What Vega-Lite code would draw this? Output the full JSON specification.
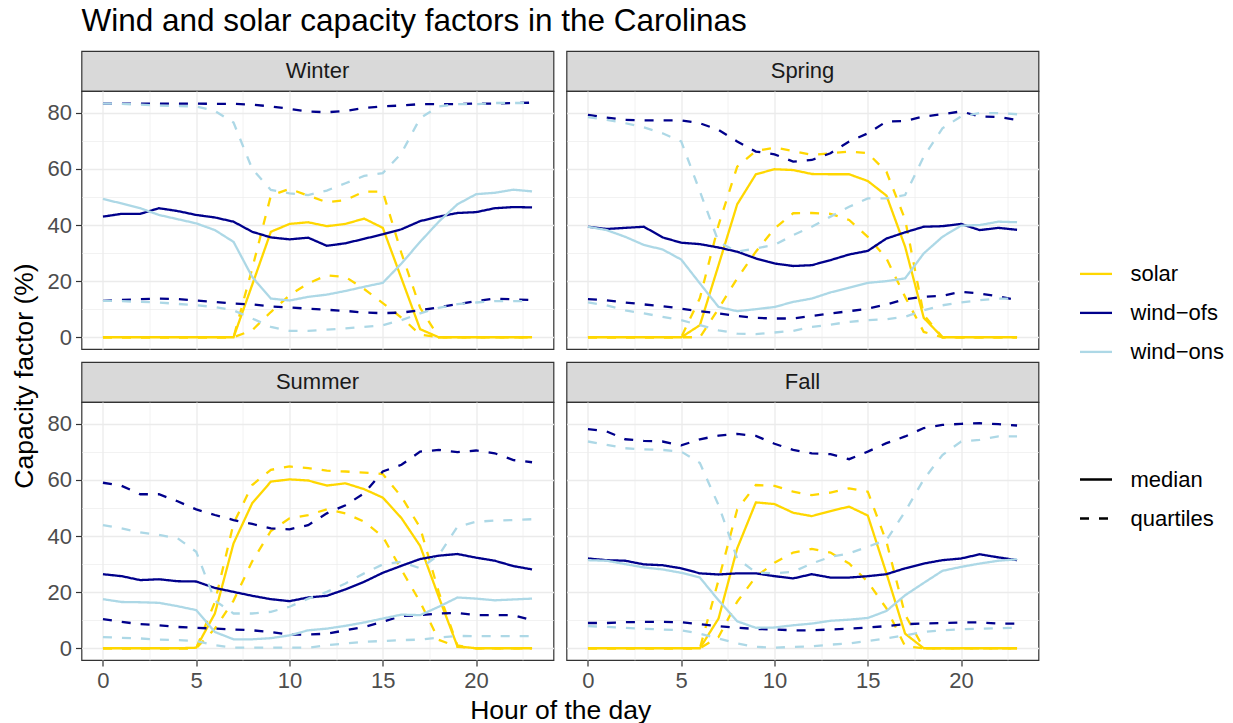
{
"$schema": "https://vega.github.io/schema/vega-lite/v6.json",
"background": "white",
"padding": {"left": 9.5, "top": 5, "right": 2, "bottom": 0},
"title": {"text": "Wind and solar capacity factors in the Carolinas", "anchor": "start", "frame": "group", "fontSize": 31.5, "fontWeight": "normal", "color": "#000000", "offset": -12, "baseline": "alphabetic"},
"datasets": {"d": [
{"s":"Winter","c":"solar","h":0,"median":0,"q25":0,"q75":0},
{"s":"Winter","c":"solar","h":1,"median":0,"q25":0,"q75":0},
{"s":"Winter","c":"solar","h":2,"median":0,"q25":0,"q75":0},
{"s":"Winter","c":"solar","h":3,"median":0,"q25":0,"q75":0},
{"s":"Winter","c":"solar","h":4,"median":0,"q25":0,"q75":0},
{"s":"Winter","c":"solar","h":5,"median":0,"q25":0,"q75":0},
{"s":"Winter","c":"solar","h":6,"median":0,"q25":0,"q75":0},
{"s":"Winter","c":"solar","h":7,"median":0,"q25":0,"q75":0},
{"s":"Winter","c":"solar","h":8,"median":18.7,"q25":2.5,"q75":24.5},
{"s":"Winter","c":"solar","h":9,"median":37.6,"q25":9,"q75":50.5},
{"s":"Winter","c":"solar","h":10,"median":40.4,"q25":15,"q75":52.9},
{"s":"Winter","c":"solar","h":11,"median":41,"q25":19.2,"q75":50.5},
{"s":"Winter","c":"solar","h":12,"median":39.6,"q25":22.1,"q75":48.1},
{"s":"Winter","c":"solar","h":13,"median":40.4,"q25":21.5,"q75":48.9},
{"s":"Winter","c":"solar","h":14,"median":42.3,"q25":17.2,"q75":51.9},
{"s":"Winter","c":"solar","h":15,"median":39,"q25":12.2,"q75":51.9},
{"s":"Winter","c":"solar","h":16,"median":21,"q25":7,"q75":30},
{"s":"Winter","c":"solar","h":17,"median":2.9,"q25":1,"q75":10.5},
{"s":"Winter","c":"solar","h":18,"median":0,"q25":0,"q75":0},
{"s":"Winter","c":"solar","h":19,"median":0,"q25":0,"q75":0},
{"s":"Winter","c":"solar","h":20,"median":0,"q25":0,"q75":0},
{"s":"Winter","c":"solar","h":21,"median":0,"q25":0,"q75":0},
{"s":"Winter","c":"solar","h":22,"median":0,"q25":0,"q75":0},
{"s":"Winter","c":"solar","h":23,"median":0,"q25":0,"q75":0},
{"s":"Winter","c":"wind-ofs","h":0,"median":43,"q25":13,"q75":83.3},
{"s":"Winter","c":"wind-ofs","h":1,"median":44,"q25":13.3,"q75":83.3},
{"s":"Winter","c":"wind-ofs","h":2,"median":44,"q25":13.6,"q75":83.3},
{"s":"Winter","c":"wind-ofs","h":3,"median":46,"q25":13.8,"q75":83.3},
{"s":"Winter","c":"wind-ofs","h":4,"median":45,"q25":13.6,"q75":83.3},
{"s":"Winter","c":"wind-ofs","h":5,"median":43.6,"q25":13.1,"q75":83.3},
{"s":"Winter","c":"wind-ofs","h":6,"median":42.7,"q25":12.6,"q75":83.2},
{"s":"Winter","c":"wind-ofs","h":7,"median":41.2,"q25":12,"q75":83.2},
{"s":"Winter","c":"wind-ofs","h":8,"median":37.6,"q25":11.7,"q75":82.9},
{"s":"Winter","c":"wind-ofs","h":9,"median":35.6,"q25":11,"q75":82.3},
{"s":"Winter","c":"wind-ofs","h":10,"median":34.9,"q25":10.6,"q75":81.4},
{"s":"Winter","c":"wind-ofs","h":11,"median":35.5,"q25":10.2,"q75":80.5},
{"s":"Winter","c":"wind-ofs","h":12,"median":32.6,"q25":9.8,"q75":80.2},
{"s":"Winter","c":"wind-ofs","h":13,"median":33.5,"q25":9.4,"q75":80.7},
{"s":"Winter","c":"wind-ofs","h":14,"median":35.1,"q25":8.8,"q75":81.7},
{"s":"Winter","c":"wind-ofs","h":15,"median":36.7,"q25":8.6,"q75":82.3},
{"s":"Winter","c":"wind-ofs","h":16,"median":38.5,"q25":8.8,"q75":82.6},
{"s":"Winter","c":"wind-ofs","h":17,"median":41.4,"q25":9.6,"q75":83.1},
{"s":"Winter","c":"wind-ofs","h":18,"median":43,"q25":10.7,"q75":83.1},
{"s":"Winter","c":"wind-ofs","h":19,"median":44.3,"q25":11.8,"q75":83.1},
{"s":"Winter","c":"wind-ofs","h":20,"median":44.6,"q25":12.9,"q75":83.3},
{"s":"Winter","c":"wind-ofs","h":21,"median":46,"q25":13.8,"q75":83.3},
{"s":"Winter","c":"wind-ofs","h":22,"median":46.4,"q25":13.5,"q75":83.5},
{"s":"Winter","c":"wind-ofs","h":23,"median":46.3,"q25":13.3,"q75":83.6},
{"s":"Winter","c":"wind-ons","h":0,"median":49.3,"q25":13,"q75":83.3},
{"s":"Winter","c":"wind-ons","h":1,"median":47.7,"q25":12.9,"q75":83.2},
{"s":"Winter","c":"wind-ons","h":2,"median":46,"q25":12.6,"q75":82.9},
{"s":"Winter","c":"wind-ons","h":3,"median":43.6,"q25":12.4,"q75":82.6},
{"s":"Winter","c":"wind-ons","h":4,"median":42.1,"q25":11.9,"q75":82.4},
{"s":"Winter","c":"wind-ons","h":5,"median":40.6,"q25":11.4,"q75":82.3},
{"s":"Winter","c":"wind-ons","h":6,"median":38.2,"q25":10.8,"q75":80.7},
{"s":"Winter","c":"wind-ons","h":7,"median":34,"q25":9.6,"q75":76.5},
{"s":"Winter","c":"wind-ons","h":8,"median":21.5,"q25":6.7,"q75":60},
{"s":"Winter","c":"wind-ons","h":9,"median":13.8,"q25":3.7,"q75":52.5},
{"s":"Winter","c":"wind-ons","h":10,"median":13.1,"q25":2.3,"q75":51.3},
{"s":"Winter","c":"wind-ons","h":11,"median":14.4,"q25":2.3,"q75":50.7},
{"s":"Winter","c":"wind-ons","h":12,"median":15.2,"q25":2.7,"q75":52.3},
{"s":"Winter","c":"wind-ons","h":13,"median":16.5,"q25":3.2,"q75":54.9},
{"s":"Winter","c":"wind-ons","h":14,"median":18,"q25":3.7,"q75":57.5},
{"s":"Winter","c":"wind-ons","h":15,"median":19.4,"q25":4.3,"q75":58.5},
{"s":"Winter","c":"wind-ons","h":16,"median":26.3,"q25":6.1,"q75":65.6},
{"s":"Winter","c":"wind-ons","h":17,"median":34,"q25":8.5,"q75":78.1},
{"s":"Winter","c":"wind-ons","h":18,"median":41.2,"q25":10.5,"q75":82.3},
{"s":"Winter","c":"wind-ons","h":19,"median":47.4,"q25":11.8,"q75":83.1},
{"s":"Winter","c":"wind-ons","h":20,"median":51,"q25":12.4,"q75":83.1},
{"s":"Winter","c":"wind-ons","h":21,"median":51.5,"q25":12.9,"q75":83.5},
{"s":"Winter","c":"wind-ons","h":22,"median":52.6,"q25":12.9,"q75":83.5},
{"s":"Winter","c":"wind-ons","h":23,"median":52,"q25":12.9,"q75":83.5},
{"s":"Spring","c":"solar","h":0,"median":0,"q25":0,"q75":0},
{"s":"Spring","c":"solar","h":1,"median":0,"q25":0,"q75":0},
{"s":"Spring","c":"solar","h":2,"median":0,"q25":0,"q75":0},
{"s":"Spring","c":"solar","h":3,"median":0,"q25":0,"q75":0},
{"s":"Spring","c":"solar","h":4,"median":0,"q25":0,"q75":0},
{"s":"Spring","c":"solar","h":5,"median":0,"q25":0,"q75":0},
{"s":"Spring","c":"solar","h":6,"median":4.3,"q25":0,"q75":14},
{"s":"Spring","c":"solar","h":7,"median":25.7,"q25":10.2,"q75":40},
{"s":"Spring","c":"solar","h":8,"median":47.4,"q25":21,"q75":60.8},
{"s":"Spring","c":"solar","h":9,"median":58.1,"q25":30.5,"q75":66.4},
{"s":"Spring","c":"solar","h":10,"median":59.9,"q25":38.8,"q75":67.6},
{"s":"Spring","c":"solar","h":11,"median":59.6,"q25":44.2,"q75":66.4},
{"s":"Spring","c":"solar","h":12,"median":58.2,"q25":44.3,"q75":65},
{"s":"Spring","c":"solar","h":13,"median":58.1,"q25":44,"q75":65.6},
{"s":"Spring","c":"solar","h":14,"median":58.1,"q25":41.8,"q75":66.2},
{"s":"Spring","c":"solar","h":15,"median":55.7,"q25":35.8,"q75":65.6},
{"s":"Spring","c":"solar","h":16,"median":50.5,"q25":28.1,"q75":59},
{"s":"Spring","c":"solar","h":17,"median":32.3,"q25":14.4,"q75":42},
{"s":"Spring","c":"solar","h":18,"median":6.9,"q25":1.9,"q75":8},
{"s":"Spring","c":"solar","h":19,"median":0,"q25":0,"q75":0},
{"s":"Spring","c":"solar","h":20,"median":0,"q25":0,"q75":0},
{"s":"Spring","c":"solar","h":21,"median":0,"q25":0,"q75":0},
{"s":"Spring","c":"solar","h":22,"median":0,"q25":0,"q75":0},
{"s":"Spring","c":"solar","h":23,"median":0,"q25":0,"q75":0},
{"s":"Spring","c":"wind-ofs","h":0,"median":39.4,"q25":13.6,"q75":79.3},
{"s":"Spring","c":"wind-ofs","h":1,"median":38.6,"q25":13.2,"q75":78.3},
{"s":"Spring","c":"wind-ofs","h":2,"median":39,"q25":12.4,"q75":77.5},
{"s":"Spring","c":"wind-ofs","h":3,"median":39.4,"q25":11.7,"q75":77.3},
{"s":"Spring","c":"wind-ofs","h":4,"median":35.6,"q25":11.1,"q75":77.3},
{"s":"Spring","c":"wind-ofs","h":5,"median":33.7,"q25":10.2,"q75":77.3},
{"s":"Spring","c":"wind-ofs","h":6,"median":33.2,"q25":9.3,"q75":76.3},
{"s":"Spring","c":"wind-ofs","h":7,"median":32,"q25":8.5,"q75":73.9},
{"s":"Spring","c":"wind-ofs","h":8,"median":30.5,"q25":7.6,"q75":69.8},
{"s":"Spring","c":"wind-ofs","h":9,"median":28.1,"q25":6.9,"q75":66.2},
{"s":"Spring","c":"wind-ofs","h":10,"median":26.3,"q25":6.7,"q75":65.2},
{"s":"Spring","c":"wind-ofs","h":11,"median":25.4,"q25":6.7,"q75":62.6},
{"s":"Spring","c":"wind-ofs","h":12,"median":25.7,"q25":7.6,"q75":63.2},
{"s":"Spring","c":"wind-ofs","h":13,"median":27.5,"q25":8.5,"q75":65.6},
{"s":"Spring","c":"wind-ofs","h":14,"median":29.5,"q25":9.3,"q75":69.8},
{"s":"Spring","c":"wind-ofs","h":15,"median":30.8,"q25":10.2,"q75":72.7},
{"s":"Spring","c":"wind-ofs","h":16,"median":35.2,"q25":11.7,"q75":76.9},
{"s":"Spring","c":"wind-ofs","h":17,"median":37.4,"q25":13.6,"q75":77.1},
{"s":"Spring","c":"wind-ofs","h":18,"median":39.4,"q25":14.4,"q75":78.7},
{"s":"Spring","c":"wind-ofs","h":19,"median":39.6,"q25":14.8,"q75":79.5},
{"s":"Spring","c":"wind-ofs","h":20,"median":40.4,"q25":16.2,"q75":80.5},
{"s":"Spring","c":"wind-ofs","h":21,"median":38.2,"q25":15.6,"q75":78.7},
{"s":"Spring","c":"wind-ofs","h":22,"median":39,"q25":14.6,"q75":78.5},
{"s":"Spring","c":"wind-ofs","h":23,"median":38.3,"q25":13.2,"q75":77.5},
{"s":"Spring","c":"wind-ons","h":0,"median":39.4,"q25":12.4,"q75":78.5},
{"s":"Spring","c":"wind-ons","h":1,"median":38.2,"q25":11.4,"q75":77.5},
{"s":"Spring","c":"wind-ons","h":2,"median":35.8,"q25":9.6,"q75":76.3},
{"s":"Spring","c":"wind-ons","h":3,"median":32.9,"q25":8.5,"q75":74.8},
{"s":"Spring","c":"wind-ons","h":4,"median":31.3,"q25":7.3,"q75":72.7},
{"s":"Spring","c":"wind-ons","h":5,"median":27.7,"q25":6.1,"q75":69.8},
{"s":"Spring","c":"wind-ons","h":6,"median":19.2,"q25":4.3,"q75":52},
{"s":"Spring","c":"wind-ons","h":7,"median":10.8,"q25":2.5,"q75":34},
{"s":"Spring","c":"wind-ons","h":8,"median":9.3,"q25":1.3,"q75":30.5},
{"s":"Spring","c":"wind-ons","h":9,"median":10,"q25":1.1,"q75":31.7},
{"s":"Spring","c":"wind-ons","h":10,"median":10.8,"q25":1.7,"q75":32.9},
{"s":"Spring","c":"wind-ons","h":11,"median":12.6,"q25":2.3,"q75":36.4},
{"s":"Spring","c":"wind-ons","h":12,"median":13.8,"q25":3.7,"q75":39.4},
{"s":"Spring","c":"wind-ons","h":13,"median":16,"q25":4.5,"q75":43},
{"s":"Spring","c":"wind-ons","h":14,"median":17.7,"q25":5.5,"q75":46.5},
{"s":"Spring","c":"wind-ons","h":15,"median":19.4,"q25":6.1,"q75":49.5},
{"s":"Spring","c":"wind-ons","h":16,"median":20,"q25":6.4,"q75":49.5},
{"s":"Spring","c":"wind-ons","h":17,"median":21,"q25":7.3,"q75":50.7},
{"s":"Spring","c":"wind-ons","h":18,"median":29.9,"q25":9.6,"q75":64.4},
{"s":"Spring","c":"wind-ons","h":19,"median":35.8,"q25":11.4,"q75":74.5},
{"s":"Spring","c":"wind-ons","h":20,"median":39.8,"q25":12.4,"q75":78.7},
{"s":"Spring","c":"wind-ons","h":21,"median":40,"q25":13.2,"q75":79.9},
{"s":"Spring","c":"wind-ons","h":22,"median":41.2,"q25":13.8,"q75":79.9},
{"s":"Spring","c":"wind-ons","h":23,"median":41,"q25":13.8,"q75":79.5},
{"s":"Summer","c":"solar","h":0,"median":0,"q25":0,"q75":0},
{"s":"Summer","c":"solar","h":1,"median":0,"q25":0,"q75":0},
{"s":"Summer","c":"solar","h":2,"median":0,"q25":0,"q75":0},
{"s":"Summer","c":"solar","h":3,"median":0,"q25":0,"q75":0},
{"s":"Summer","c":"solar","h":4,"median":0,"q25":0,"q75":0},
{"s":"Summer","c":"solar","h":5,"median":0.2,"q25":0,"q75":0},
{"s":"Summer","c":"solar","h":6,"median":12.4,"q25":7,"q75":16.5},
{"s":"Summer","c":"solar","h":7,"median":37.4,"q25":17,"q75":44.5},
{"s":"Summer","c":"solar","h":8,"median":51.7,"q25":31,"q75":58.2},
{"s":"Summer","c":"solar","h":9,"median":59.4,"q25":41.8,"q75":63.6},
{"s":"Summer","c":"solar","h":10,"median":60.2,"q25":46.3,"q75":64.8},
{"s":"Summer","c":"solar","h":11,"median":59.8,"q25":47.5,"q75":64.2},
{"s":"Summer","c":"solar","h":12,"median":58,"q25":49.5,"q75":63.3},
{"s":"Summer","c":"solar","h":13,"median":58.8,"q25":48.1,"q75":63},
{"s":"Summer","c":"solar","h":14,"median":56.7,"q25":45.1,"q75":62.6},
{"s":"Summer","c":"solar","h":15,"median":53.7,"q25":39.8,"q75":62.1},
{"s":"Summer","c":"solar","h":16,"median":46.4,"q25":28,"q75":54},
{"s":"Summer","c":"solar","h":17,"median":36.5,"q25":16.5,"q75":43},
{"s":"Summer","c":"solar","h":18,"median":18.3,"q25":3,"q75":20},
{"s":"Summer","c":"solar","h":19,"median":0.7,"q25":0.5,"q75":1},
{"s":"Summer","c":"solar","h":20,"median":0,"q25":0,"q75":0},
{"s":"Summer","c":"solar","h":21,"median":0,"q25":0,"q75":0},
{"s":"Summer","c":"solar","h":22,"median":0,"q25":0,"q75":0},
{"s":"Summer","c":"solar","h":23,"median":0,"q25":0,"q75":0},
{"s":"Summer","c":"wind-ofs","h":0,"median":26.4,"q25":10.4,"q75":59},
{"s":"Summer","c":"wind-ofs","h":1,"median":25.7,"q25":9.4,"q75":57.9},
{"s":"Summer","c":"wind-ofs","h":2,"median":24.3,"q25":8.6,"q75":54.9},
{"s":"Summer","c":"wind-ofs","h":3,"median":24.6,"q25":8.2,"q75":54.9},
{"s":"Summer","c":"wind-ofs","h":4,"median":23.9,"q25":7.6,"q75":52.4},
{"s":"Summer","c":"wind-ofs","h":5,"median":23.8,"q25":7.3,"q75":49.5},
{"s":"Summer","c":"wind-ofs","h":6,"median":21.5,"q25":7,"q75":47.5},
{"s":"Summer","c":"wind-ofs","h":7,"median":20.1,"q25":6.7,"q75":45.7},
{"s":"Summer","c":"wind-ofs","h":8,"median":18.7,"q25":6.4,"q75":44.3},
{"s":"Summer","c":"wind-ofs","h":9,"median":17.5,"q25":5.8,"q75":42.7},
{"s":"Summer","c":"wind-ofs","h":10,"median":16.8,"q25":4.9,"q75":42.4},
{"s":"Summer","c":"wind-ofs","h":11,"median":18.1,"q25":4.9,"q75":43.9},
{"s":"Summer","c":"wind-ofs","h":12,"median":18.7,"q25":5.2,"q75":48.1},
{"s":"Summer","c":"wind-ofs","h":13,"median":21,"q25":6.4,"q75":51},
{"s":"Summer","c":"wind-ofs","h":14,"median":23.7,"q25":7.6,"q75":55.2},
{"s":"Summer","c":"wind-ofs","h":15,"median":26.9,"q25":9.4,"q75":63},
{"s":"Summer","c":"wind-ofs","h":16,"median":29.4,"q25":11.5,"q75":65.4},
{"s":"Summer","c":"wind-ofs","h":17,"median":31.8,"q25":11.8,"q75":70.1},
{"s":"Summer","c":"wind-ofs","h":18,"median":33,"q25":12.4,"q75":70.7},
{"s":"Summer","c":"wind-ofs","h":19,"median":33.6,"q25":12.6,"q75":69.9},
{"s":"Summer","c":"wind-ofs","h":20,"median":32.3,"q25":11.8,"q75":70.5},
{"s":"Summer","c":"wind-ofs","h":21,"median":31.2,"q25":11.8,"q75":69.5},
{"s":"Summer","c":"wind-ofs","h":22,"median":29.3,"q25":11.8,"q75":67.1},
{"s":"Summer","c":"wind-ofs","h":23,"median":28.1,"q25":10,"q75":66.3},
{"s":"Summer","c":"wind-ons","h":0,"median":17.5,"q25":4,"q75":43.9},
{"s":"Summer","c":"wind-ons","h":1,"median":16.5,"q25":3.7,"q75":42.7},
{"s":"Summer","c":"wind-ons","h":2,"median":16.4,"q25":3.5,"q75":41.3},
{"s":"Summer","c":"wind-ons","h":3,"median":16.2,"q25":3.1,"q75":40.4},
{"s":"Summer","c":"wind-ons","h":4,"median":15,"q25":2.9,"q75":39.2},
{"s":"Summer","c":"wind-ons","h":5,"median":13.6,"q25":2.6,"q75":34.4},
{"s":"Summer","c":"wind-ons","h":6,"median":5.8,"q25":1.1,"q75":17},
{"s":"Summer","c":"wind-ons","h":7,"median":3.2,"q25":0.2,"q75":12.4},
{"s":"Summer","c":"wind-ons","h":8,"median":3.2,"q25":0.2,"q75":12.4},
{"s":"Summer","c":"wind-ons","h":9,"median":3.6,"q25":0.2,"q75":13},
{"s":"Summer","c":"wind-ons","h":10,"median":4.6,"q25":0.2,"q75":14.8},
{"s":"Summer","c":"wind-ons","h":11,"median":6.4,"q25":0.2,"q75":17.7},
{"s":"Summer","c":"wind-ons","h":12,"median":7,"q25":1.1,"q75":20.1},
{"s":"Summer","c":"wind-ons","h":13,"median":8,"q25":1.7,"q75":23.1},
{"s":"Summer","c":"wind-ons","h":14,"median":9.2,"q25":2.3,"q75":26.7},
{"s":"Summer","c":"wind-ons","h":15,"median":10.6,"q25":2.6,"q75":29.9},
{"s":"Summer","c":"wind-ons","h":16,"median":12,"q25":2.9,"q75":30.8},
{"s":"Summer","c":"wind-ons","h":17,"median":11.8,"q25":3.1,"q75":28.5},
{"s":"Summer","c":"wind-ons","h":18,"median":14.8,"q25":3.8,"q75":33.2},
{"s":"Summer","c":"wind-ons","h":19,"median":18.1,"q25":4.4,"q75":43.3},
{"s":"Summer","c":"wind-ons","h":20,"median":17.7,"q25":4.3,"q75":45.1},
{"s":"Summer","c":"wind-ons","h":21,"median":17.1,"q25":4.3,"q75":45.5},
{"s":"Summer","c":"wind-ons","h":22,"median":17.4,"q25":4.3,"q75":45.7},
{"s":"Summer","c":"wind-ons","h":23,"median":17.7,"q25":4.3,"q75":46},
{"s":"Fall","c":"solar","h":0,"median":0,"q25":0,"q75":0},
{"s":"Fall","c":"solar","h":1,"median":0,"q25":0,"q75":0},
{"s":"Fall","c":"solar","h":2,"median":0,"q25":0,"q75":0},
{"s":"Fall","c":"solar","h":3,"median":0,"q25":0,"q75":0},
{"s":"Fall","c":"solar","h":4,"median":0,"q25":0,"q75":0},
{"s":"Fall","c":"solar","h":5,"median":0,"q25":0,"q75":0},
{"s":"Fall","c":"solar","h":6,"median":0,"q25":0,"q75":0},
{"s":"Fall","c":"solar","h":7,"median":10.6,"q25":4,"q75":24.3},
{"s":"Fall","c":"solar","h":8,"median":35.6,"q25":16.6,"q75":49.5},
{"s":"Fall","c":"solar","h":9,"median":52,"q25":25.5,"q75":58.2},
{"s":"Fall","c":"solar","h":10,"median":51.4,"q25":30.5,"q75":57.9},
{"s":"Fall","c":"solar","h":11,"median":48.3,"q25":34.1,"q75":55.8},
{"s":"Fall","c":"solar","h":12,"median":47.1,"q25":35.4,"q75":54.6},
{"s":"Fall","c":"solar","h":13,"median":48.9,"q25":34.1,"q75":55.5},
{"s":"Fall","c":"solar","h":14,"median":50.5,"q25":30.2,"q75":57},
{"s":"Fall","c":"solar","h":15,"median":47.3,"q25":23.7,"q75":55.8},
{"s":"Fall","c":"solar","h":16,"median":26.7,"q25":14.2,"q75":38},
{"s":"Fall","c":"solar","h":17,"median":5.2,"q25":0.7,"q75":12},
{"s":"Fall","c":"solar","h":18,"median":0,"q25":0,"q75":0},
{"s":"Fall","c":"solar","h":19,"median":0,"q25":0,"q75":0},
{"s":"Fall","c":"solar","h":20,"median":0,"q25":0,"q75":0},
{"s":"Fall","c":"solar","h":21,"median":0,"q25":0,"q75":0},
{"s":"Fall","c":"solar","h":22,"median":0,"q25":0,"q75":0},
{"s":"Fall","c":"solar","h":23,"median":0,"q25":0,"q75":0},
{"s":"Fall","c":"wind-ofs","h":0,"median":32,"q25":9,"q75":78.1},
{"s":"Fall","c":"wind-ofs","h":1,"median":31.4,"q25":9,"q75":77.3},
{"s":"Fall","c":"wind-ofs","h":2,"median":31.2,"q25":9.3,"q75":74.5},
{"s":"Fall","c":"wind-ofs","h":3,"median":29.9,"q25":9.4,"q75":73.9},
{"s":"Fall","c":"wind-ofs","h":4,"median":29.6,"q25":9.4,"q75":73.7},
{"s":"Fall","c":"wind-ofs","h":5,"median":28.5,"q25":9.3,"q75":72.3},
{"s":"Fall","c":"wind-ofs","h":6,"median":26.7,"q25":8.6,"q75":74.5},
{"s":"Fall","c":"wind-ofs","h":7,"median":26.3,"q25":7.9,"q75":75.8},
{"s":"Fall","c":"wind-ofs","h":8,"median":26.7,"q25":7.3,"q75":76.4},
{"s":"Fall","c":"wind-ofs","h":9,"median":26.7,"q25":6.9,"q75":75.7},
{"s":"Fall","c":"wind-ofs","h":10,"median":25.7,"q25":6.7,"q75":72.9},
{"s":"Fall","c":"wind-ofs","h":11,"median":24.9,"q25":6.4,"q75":70.7},
{"s":"Fall","c":"wind-ofs","h":12,"median":26.4,"q25":6.4,"q75":69.5},
{"s":"Fall","c":"wind-ofs","h":13,"median":25.2,"q25":6.7,"q75":69.2},
{"s":"Fall","c":"wind-ofs","h":14,"median":25.2,"q25":7,"q75":67.4},
{"s":"Fall","c":"wind-ofs","h":15,"median":25.7,"q25":7.4,"q75":70.1},
{"s":"Fall","c":"wind-ofs","h":16,"median":26.4,"q25":7.9,"q75":73.1},
{"s":"Fall","c":"wind-ofs","h":17,"median":28.5,"q25":8.6,"q75":75.5},
{"s":"Fall","c":"wind-ofs","h":18,"median":30.2,"q25":8.8,"q75":78.5},
{"s":"Fall","c":"wind-ofs","h":19,"median":31.4,"q25":9,"q75":79.6},
{"s":"Fall","c":"wind-ofs","h":20,"median":32,"q25":9.2,"q75":80},
{"s":"Fall","c":"wind-ofs","h":21,"median":33.5,"q25":9.2,"q75":80.2},
{"s":"Fall","c":"wind-ofs","h":22,"median":32.4,"q25":8.8,"q75":79.9},
{"s":"Fall","c":"wind-ofs","h":23,"median":31.4,"q25":8.8,"q75":79.4},
{"s":"Fall","c":"wind-ons","h":0,"median":31.4,"q25":7.9,"q75":73.7},
{"s":"Fall","c":"wind-ons","h":1,"median":31.2,"q25":7.6,"q75":72.5},
{"s":"Fall","c":"wind-ons","h":2,"median":30,"q25":7.3,"q75":71.3},
{"s":"Fall","c":"wind-ons","h":3,"median":28.8,"q25":6.9,"q75":70.9},
{"s":"Fall","c":"wind-ons","h":4,"median":28.1,"q25":6.7,"q75":70.7},
{"s":"Fall","c":"wind-ons","h":5,"median":26.9,"q25":6.4,"q75":70.1},
{"s":"Fall","c":"wind-ons","h":6,"median":25.2,"q25":5.2,"q75":66},
{"s":"Fall","c":"wind-ons","h":7,"median":17.1,"q25":3.5,"q75":51},
{"s":"Fall","c":"wind-ons","h":8,"median":9.6,"q25":1.7,"q75":32},
{"s":"Fall","c":"wind-ons","h":9,"median":7.3,"q25":0.5,"q75":27},
{"s":"Fall","c":"wind-ons","h":10,"median":7.4,"q25":0.2,"q75":26.7},
{"s":"Fall","c":"wind-ons","h":11,"median":8.2,"q25":0.5,"q75":27.3},
{"s":"Fall","c":"wind-ons","h":12,"median":8.8,"q25":0.7,"q75":30.2},
{"s":"Fall","c":"wind-ons","h":13,"median":9.8,"q25":1.3,"q75":32.6},
{"s":"Fall","c":"wind-ons","h":14,"median":10.2,"q25":1.7,"q75":33.8},
{"s":"Fall","c":"wind-ons","h":15,"median":10.8,"q25":2.6,"q75":36.2},
{"s":"Fall","c":"wind-ons","h":16,"median":13.3,"q25":3.5,"q75":38.6},
{"s":"Fall","c":"wind-ons","h":17,"median":18.9,"q25":4.6,"q75":48.7},
{"s":"Fall","c":"wind-ons","h":18,"median":23.3,"q25":5.8,"q75":60.2},
{"s":"Fall","c":"wind-ons","h":19,"median":27.6,"q25":6.4,"q75":68.9},
{"s":"Fall","c":"wind-ons","h":20,"median":29,"q25":6.8,"q75":73.7},
{"s":"Fall","c":"wind-ons","h":21,"median":30.2,"q25":7,"q75":74.3},
{"s":"Fall","c":"wind-ons","h":22,"median":31.2,"q25":7.1,"q75":75.5},
{"s":"Fall","c":"wind-ons","h":23,"median":31.7,"q25":7.3,"q75":75.5}
]},
"bounds": "flush",
"columns": 2,
"spacing": {"row": 0, "column": 13},
"concat": [
 {"data": {"values": [{"s": "Winter"}]}, "width": 472, "height": 40, "view": {"fill": "#D9D9D9", "stroke": "#333333", "strokeWidth": 1.2}, "mark": {"type": "text", "fontSize": 22, "color": "#1A1A1A"}, "encoding": {"text": {"field": "s"}}},
 {"data": {"values": [{"s": "Spring"}]}, "width": 472, "height": 40, "view": {"fill": "#D9D9D9", "stroke": "#333333", "strokeWidth": 1.2}, "mark": {"type": "text", "fontSize": 22, "color": "#1A1A1A"}, "encoding": {"text": {"field": "s"}}},
 {"data": {"name": "d"}, "width": 472, "height": 258,
  "transform": [{"filter": "datum.s === 'Winter'"}, {"fold": ["median", "q25", "q75"], "as": ["stat", "v"]}],
  "mark": {"type": "line", "strokeWidth": 2.3},
  "encoding": {
   "x": {"field": "h", "type": "quantitative", "scale": {"domain": [-1.15, 24.15], "nice": false, "zero": false}, "axis": {"values": [0, 2.5, 5, 7.5, 10, 12.5, 15, 17.5, 20, 22.5], "labels": false, "ticks": false, "title": null, "gridWidth": {"condition": {"test": "datum.value % 5 === 0", "value": 1.3}, "value": 0.65}}},
   "y": {"field": "v", "type": "quantitative", "scale": {"domain": [-4.18, 87.78], "nice": false, "zero": false}, "axis": {"values": [0, 10, 20, 30, 40, 50, 60, 70, 80], "labelExpr": "datum.value % 20 === 0 ? datum.label : ''", "tickOpacity": {"condition": {"test": "datum.value % 20 === 0", "value": 1}, "value": 0}, "gridWidth": {"condition": {"test": "datum.value % 20 === 0", "value": 1.3}, "value": 0.65}, "title": "Capacity factor (%)", "titleX": -49.5, "titleY": 284.5, "titleBaseline": "alphabetic", "titleAlign": "center"}},
   "color": {"field": "c", "type": "nominal", "scale": {"domain": ["solar", "wind-ofs", "wind-ons"], "range": ["#FFD700", "#00008B", "#ADD8E6"]}, "legend": {"title": null, "orient": "none", "legendX": 997, "legendY": 205.4, "labelExpr": "replace(datum.label, '-', '−')"}},
   "strokeDash": {"field": "stat", "type": "nominal", "scale": {"domain": ["median", "q25", "q75"], "range": [[1, 0], [9, 10], [9, 10]]}, "legend": {"title": null, "orient": "none", "legendX": 997, "legendY": 411, "values": ["median", "q25"], "labelExpr": "datum.value === 'q25' ? 'quartiles' : 'median'", "symbolStrokeColor": "#000000"}}
  }},
 {"data": {"name": "d"}, "width": 472, "height": 258,
  "transform": [{"filter": "datum.s === 'Spring'"}, {"fold": ["median", "q25", "q75"], "as": ["stat", "v"]}],
  "mark": {"type": "line", "strokeWidth": 2.3},
  "encoding": {
   "x": {"field": "h", "type": "quantitative", "scale": {"domain": [-1.15, 24.15], "nice": false, "zero": false}, "axis": {"values": [0, 2.5, 5, 7.5, 10, 12.5, 15, 17.5, 20, 22.5], "labels": false, "ticks": false, "title": null, "gridWidth": {"condition": {"test": "datum.value % 5 === 0", "value": 1.3}, "value": 0.65}}},
   "y": {"field": "v", "type": "quantitative", "scale": {"domain": [-4.18, 87.78], "nice": false, "zero": false}, "axis": {"values": [0, 10, 20, 30, 40, 50, 60, 70, 80], "labels": false, "ticks": false, "title": null, "gridWidth": {"condition": {"test": "datum.value % 20 === 0", "value": 1.3}, "value": 0.65}}},
   "color": {"field": "c", "type": "nominal", "scale": {"domain": ["solar", "wind-ofs", "wind-ons"], "range": ["#FFD700", "#00008B", "#ADD8E6"]}, "legend": {"title": null, "orient": "none", "legendX": 997, "legendY": 205.4, "labelExpr": "replace(datum.label, '-', '−')"}},
   "strokeDash": {"field": "stat", "type": "nominal", "scale": {"domain": ["median", "q25", "q75"], "range": [[1, 0], [9, 10], [9, 10]]}, "legend": {"title": null, "orient": "none", "legendX": 997, "legendY": 411, "values": ["median", "q25"], "labelExpr": "datum.value === 'q25' ? 'quartiles' : 'median'", "symbolStrokeColor": "#000000"}}
  }},
 {"data": {"values": [{"s": "gap"}]}, "width": 472, "height": 13, "view": {"stroke": null}, "mark": {"type": "point", "opacity": 0}},
 {"data": {"values": [{"s": "gap"}]}, "width": 472, "height": 13, "view": {"stroke": null}, "mark": {"type": "point", "opacity": 0}},
 {"data": {"values": [{"s": "Summer"}]}, "width": 472, "height": 40, "view": {"fill": "#D9D9D9", "stroke": "#333333", "strokeWidth": 1.2}, "mark": {"type": "text", "fontSize": 22, "color": "#1A1A1A"}, "encoding": {"text": {"field": "s"}}},
 {"data": {"values": [{"s": "Fall"}]}, "width": 472, "height": 40, "view": {"fill": "#D9D9D9", "stroke": "#333333", "strokeWidth": 1.2}, "mark": {"type": "text", "fontSize": 22, "color": "#1A1A1A"}, "encoding": {"text": {"field": "s"}}},
 {"data": {"name": "d"}, "width": 472, "height": 258,
  "transform": [{"filter": "datum.s === 'Summer'"}, {"fold": ["median", "q25", "q75"], "as": ["stat", "v"]}],
  "mark": {"type": "line", "strokeWidth": 2.3},
  "encoding": {
   "x": {"field": "h", "type": "quantitative", "scale": {"domain": [-1.15, 24.15], "nice": false, "zero": false}, "axis": {"values": [0, 2.5, 5, 7.5, 10, 12.5, 15, 17.5, 20, 22.5], "labelExpr": "datum.value % 5 === 0 ? datum.label : ''", "tickOpacity": {"condition": {"test": "datum.value % 5 === 0", "value": 1}, "value": 0}, "gridWidth": {"condition": {"test": "datum.value % 5 === 0", "value": 1.3}, "value": 0.65}, "title": "Hour of the day", "titleX": 478.75, "titleY": 58, "titleBaseline": "alphabetic", "titleAlign": "center"}},
   "y": {"field": "v", "type": "quantitative", "scale": {"domain": [-4.18, 87.78], "nice": false, "zero": false}, "axis": {"values": [0, 10, 20, 30, 40, 50, 60, 70, 80], "labelExpr": "datum.value % 20 === 0 ? datum.label : ''", "tickOpacity": {"condition": {"test": "datum.value % 20 === 0", "value": 1}, "value": 0}, "gridWidth": {"condition": {"test": "datum.value % 20 === 0", "value": 1.3}, "value": 0.65}, "title": null}},
   "color": {"field": "c", "type": "nominal", "scale": {"domain": ["solar", "wind-ofs", "wind-ons"], "range": ["#FFD700", "#00008B", "#ADD8E6"]}, "legend": {"title": null, "orient": "none", "legendX": 997, "legendY": 205.4, "labelExpr": "replace(datum.label, '-', '−')"}},
   "strokeDash": {"field": "stat", "type": "nominal", "scale": {"domain": ["median", "q25", "q75"], "range": [[1, 0], [9, 10], [9, 10]]}, "legend": {"title": null, "orient": "none", "legendX": 997, "legendY": 411, "values": ["median", "q25"], "labelExpr": "datum.value === 'q25' ? 'quartiles' : 'median'", "symbolStrokeColor": "#000000"}}
  }},
 {"data": {"name": "d"}, "width": 472, "height": 258,
  "transform": [{"filter": "datum.s === 'Fall'"}, {"fold": ["median", "q25", "q75"], "as": ["stat", "v"]}],
  "mark": {"type": "line", "strokeWidth": 2.3},
  "encoding": {
   "x": {"field": "h", "type": "quantitative", "scale": {"domain": [-1.15, 24.15], "nice": false, "zero": false}, "axis": {"values": [0, 2.5, 5, 7.5, 10, 12.5, 15, 17.5, 20, 22.5], "labelExpr": "datum.value % 5 === 0 ? datum.label : ''", "tickOpacity": {"condition": {"test": "datum.value % 5 === 0", "value": 1}, "value": 0}, "gridWidth": {"condition": {"test": "datum.value % 5 === 0", "value": 1.3}, "value": 0.65}, "title": null}},
   "y": {"field": "v", "type": "quantitative", "scale": {"domain": [-4.18, 87.78], "nice": false, "zero": false}, "axis": {"values": [0, 10, 20, 30, 40, 50, 60, 70, 80], "labels": false, "ticks": false, "title": null, "gridWidth": {"condition": {"test": "datum.value % 20 === 0", "value": 1.3}, "value": 0.65}}},
   "color": {"field": "c", "type": "nominal", "scale": {"domain": ["solar", "wind-ofs", "wind-ons"], "range": ["#FFD700", "#00008B", "#ADD8E6"]}, "legend": {"title": null, "orient": "none", "legendX": 997, "legendY": 205.4, "labelExpr": "replace(datum.label, '-', '−')"}},
   "strokeDash": {"field": "stat", "type": "nominal", "scale": {"domain": ["median", "q25", "q75"], "range": [[1, 0], [9, 10], [9, 10]]}, "legend": {"title": null, "orient": "none", "legendX": 997, "legendY": 411, "values": ["median", "q25"], "labelExpr": "datum.value === 'q25' ? 'quartiles' : 'median'", "symbolStrokeColor": "#000000"}}
  }}
],
"config": {
 "font": "Liberation Sans",
 "view": {"stroke": "#333333", "strokeWidth": 1.2},
 "axis": {"domain": false, "grid": true, "gridColor": "#EBEBEB", "tickColor": "#333333", "tickSize": 6, "tickWidth": 1.2, "labelFontSize": 22, "labelColor": "#4D4D4D", "labelPadding": 4, "titleFontSize": 26.5, "titleFontWeight": "normal", "titleColor": "#000000", "labelOverlap": false, "labelFlush": false},
 "legend": {"labelFontSize": 22, "labelColor": "#000000", "symbolType": "stroke", "symbolSize": 1024, "symbolStrokeWidth": 2.3, "rowPadding": 10, "labelOffset": 17, "padding": 0}
}
}
